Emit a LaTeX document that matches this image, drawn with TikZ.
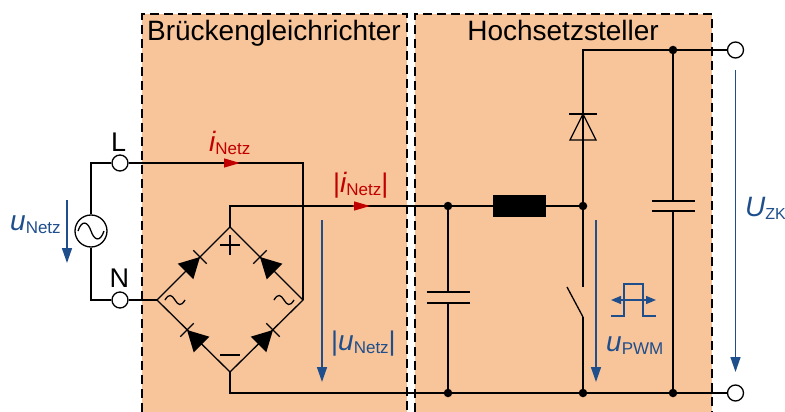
\documentclass[tikz,border=0pt]{standalone}
\usepackage{fontspec}
\setmainfont{Liberation Sans}
\usetikzlibrary{arrows.meta,calc}
\definecolor{boxfill}{HTML}{F8C499}
\definecolor{ublue}{HTML}{1F4E8C}
\definecolor{ired}{HTML}{C00000}
\newcommand{\sym}[2]{{\fontsize{28}{28}\selectfont\itshape #1}\raisebox{-3.5pt}{\fontsize{17}{17}\selectfont #2}}
\newcommand{\barsym}{\raisebox{-0.5pt}{\fontsize{27}{27}\selectfont|}}
\tikzset{
  wire/.style={line width=1.3pt,black},
  blockbox/.style={fill=boxfill,draw=none},
  dashline/.style={line width=1.4pt,black,dash pattern=on 9pt off 5pt},
  term/.style={circle,draw=black,fill=white,line width=1.3pt,minimum size=16pt,inner sep=0pt},
  dot/.style={circle,fill=black,minimum size=8.5pt,inner sep=0pt},
  source/.style={circle,draw=black,fill=none,line width=1.3pt,minimum size=32pt,inner sep=0pt},
  choke/.style={rectangle,fill=black,minimum width=53pt,minimum height=22pt,inner sep=0pt},
  uarrow/.style={line width=1.5pt,ublue,-{Triangle[length=15pt,width=10pt]}},
  iarrow/.style={line width=1.3pt,ired,-{Triangle[length=16pt,width=9pt]}},
  title/.style={font=\fontsize{28}{28}\selectfont,anchor=base,text=black,inner sep=0pt},
  lab/.style={anchor=base west,inner sep=0pt},
  ulab/.style={lab,text=ublue},
  ilab/.style={lab,text=ired}
}
\begin{document}
\begin{tikzpicture}[x=1pt,y=-1pt]
\useasboundingbox (0,0) rectangle (785,412);
% blocks
\fill[blockbox] (142,14) rectangle (407,412);
\fill[blockbox] (415,14) rectangle (712,412);
\draw[dashline] (142,412) -- (142,14) -- (407,14) -- (407,412);
\draw[dashline] (415,412) -- (415,14) -- (712,14) -- (712,412);
\node[title] at (274,41) {Brückengleichrichter};
\node[title] at (563,41) {Hochsetzsteller};
% coordinates
\coordinate (bl) at (157,300);
\coordinate (br) at (303,300);
\coordinate (bt) at (230,227);
\coordinate (bb) at (230,372);
\coordinate (cornerL) at (91,163);
\coordinate (cornerN) at (91,300);
\coordinate (cornerR) at (303,163);
\coordinate (topbend) at (230,206);
\coordinate (botbend) at (230,393);
\coordinate (topbus) at (583,50);
\coordinate (swtop) at (583,287);
\coordinate (swbot) at (583,317);
\coordinate (swblade) at (567,287);
\coordinate (c1a) at (448,292);
\coordinate (c1b) at (448,303);
\coordinate (c2a) at (673,201);
\coordinate (c2b) at (673,211);
\coordinate (dtop) at (583,114);
\coordinate (dbase) at (583,140);
% nodes
\node[term] (L) at (120,163) {};
\node[term] (N) at (120,300) {};
\node[term] (P) at (735.5,50) {};
\node[term] (M) at (735.5,393) {};
\node[source] (src) at (91,231) {};
\node[choke] (ind) at (519.5,206) {};
\node[dot] (j1) at (448,206) {};
\node[dot] (j2) at (583,206) {};
\node[dot] (j3) at (673,50) {};
\node[dot] (j4) at (448,393) {};
\node[dot] (j5) at (583,393) {};
\node[dot] (j6) at (673,393) {};
% wires
\draw[wire] (L) -- (cornerL) -- (src);
\draw[wire] (src) -- (cornerN) -- (N);
\draw[wire] (L) -- (cornerR) -- (br);
\draw[wire] (N) -- (bl);
\draw[wire] (bl) -- (bt) -- (br) -- (bb) -- cycle;
\draw[wire] (bt) -- (topbend) -- (j1) -- (ind) -- (j2);
\draw[wire] (bb) -- (botbend) -- (j4) -- (j5) -- (j6) -- (M);
\draw[wire] (j1) -- (c1a);
\draw[wire] (c1b) -- (j4);
\draw[wire] (j2) -- (dbase);
\draw[wire] (dtop) -- (topbus) -- (j3) -- (P);
\draw[wire] (j2) -- (swtop);
\draw[wire] (swbot) -- (j5);
\draw[wire] (swbot) -- (swblade);
\draw[wire] (j3) -- (c2a);
\draw[wire] (c2b) -- (j6);
% capacitor plates
\draw[wire] ($(c1a)+(-21.5,0)$) -- ($(c1a)+(21.5,0)$);
\draw[wire] ($(c1b)+(-21.5,0)$) -- ($(c1b)+(21.5,0)$);
\draw[wire] ($(c2a)+(-21.5,0)$) -- ($(c2a)+(21.5,0)$);
\draw[wire] ($(c2b)+(-21.5,0)$) -- ($(c2b)+(21.5,0)$);
% boost diode
\draw[wire] ($(dtop)+(-14,0)$) -- ($(dtop)+(14,0)$);
\draw[wire,line join=miter] (dtop) -- ($(dbase)+(-13,0)$) -- ($(dbase)+(13,0)$) -- cycle;
\draw[wire] (dtop) -- (dbase);
% bridge diodes
\foreach \x/\y/\ux/\uy in {200/257/1/-1,260/257/-1/-1,187/330/-1/-1,273/330/1/-1}{
  \fill[black] (\x,\y) -- ({\x-14.5*\ux-7.8*\uy},{\y-14.5*\uy+7.8*\ux}) -- ({\x-14.5*\ux+7.8*\uy},{\y-14.5*\uy-7.8*\ux}) -- cycle;
  \draw[wire] ({\x-6.7*\uy},{\y+6.7*\ux}) -- ({\x+6.7*\uy},{\y-6.7*\ux});
}
% bridge signs
\draw[wire] (220,245) -- (240,245) (230,235) -- (230,255);
\draw[wire] (220,355) -- (240,355);
\foreach \cx in {175,284}{
  \draw[wire] (\cx-10,300) .. controls (\cx-6,293) and (\cx-3,295) .. (\cx,300) .. controls (\cx+3,305) and (\cx+6,307) .. (\cx+10,300);
}
% source sine
\draw[wire] (78,231) .. controls (82,219) and (88,222) .. (91,231) .. controls (94,240) and (100,243) .. (104,231);
% arrows and labels
\coordinate (a1s) at (67,200); \coordinate (a1e) at (67,263);
\draw[uarrow] (a1s) -- (a1e);
\coordinate (a2s) at (322,220); \coordinate (a2e) at (322,382);
\draw[uarrow] (a2s) -- (a2e);
\coordinate (a3s) at (596,220); \coordinate (a3e) at (596,382);
\draw[uarrow] (a3s) -- (a3e);
\coordinate (a4s) at (735.5,70); \coordinate (a4e) at (735.5,372);
\draw[uarrow] (a4s) -- (a4e);
\coordinate (r1s) at (224,163); \coordinate (r1e) at (240,163);
\draw[iarrow] (r1s) -- (r1e);
\coordinate (r2s) at (353,206); \coordinate (r2e) at (370,206);
\draw[iarrow] (r2s) -- (r2e);
% PWM symbol
\draw[line width=1.1pt,ublue] (611,316) -- (624,316) -- (624,284) -- (643,284) -- (643,316) -- (656,316);
\draw[line width=1.3pt,ublue,{Triangle[length=10pt,width=8pt]}-{Triangle[length=10pt,width=8pt]}] (611,300) -- (656,300);
% labels
\node[lab,font=\fontsize{27}{27}\selectfont] at (111,151) {L};
\node[lab,font=\fontsize{27}{27}\selectfont] at (109.5,287) {N};
\node[ulab] at (10,230) {\sym{u}{Netz}};
\node[ilab] at (209,151) {\sym{i}{Netz}};
\node[ilab] at (333,192) {\barsym\sym{i}{Netz}\barsym};
\node[ulab] at (331,350) {\barsym\sym{u}{Netz}\barsym};
\node[ulab] at (606,351) {\sym{u}{PWM}};
\node[ulab] at (745,216) {\sym{U}{\fontsize{16}{16}\selectfont ZK}};
\end{tikzpicture}
\end{document}
